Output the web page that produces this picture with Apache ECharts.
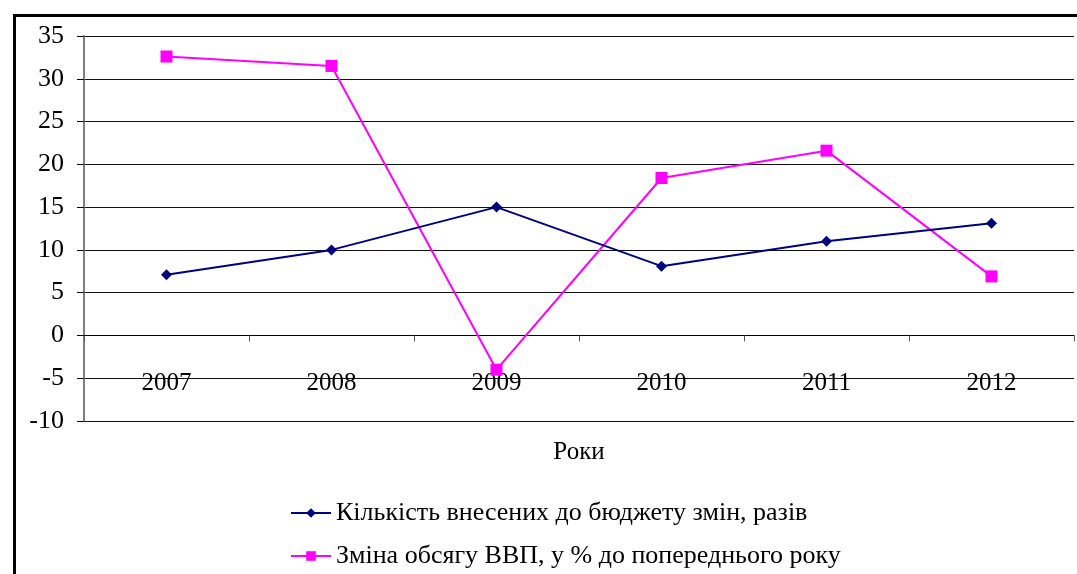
<!DOCTYPE html>
<html>
<head>
<meta charset="utf-8">
<script src="https://cdn.jsdelivr.net/npm/echarts@6/dist/echarts.min.js"></script>
<style>html,body{margin:0;padding:0;background:#fff}#c{width:1077px;height:574px}</style>
</head>
<body>
<div id="c"></div>
<script>
const categories = ['2007', '2008', '2009', '2010', '2011', '2012'];
const budgetChanges = [7.1, 10, 15, 8.1, 11, 13.1];
const gdpChange = [32.6, 31.5, -4.0, 18.4, 21.6, 6.9];
const seriesNames = ['Кількість внесених до бюджету змін, разів', 'Зміна обсягу ВВП, у % до попереднього року'];
const xAxisName = 'Роки';

const font = '"Liberation Serif", "Times New Roman", serif';
const chart = echarts.init(document.getElementById('c'), null, {renderer: 'canvas'});
chart.setOption({
  animation: false,
  backgroundColor: '#fff',
  grid: {left: 84, right: 3, top: 36, bottom: 153, containLabel: false},
  graphic: [{
    type: 'rect', left: 12, top: 13, z: 100,
    shape: {width: 1200, height: 700},
    style: {fill: 'none', stroke: '#000', lineWidth: 3}
  }],
  legend: {
    orient: 'vertical', left: 285, top: 495,
    itemWidth: 40, itemHeight: 12, itemGap: 17,
    textStyle: {fontFamily: font, fontSize: 26, color: '#000'},
    data: seriesNames
  },
  xAxis: {
    type: 'category', data: categories, boundaryGap: true,
    name: xAxisName, nameLocation: 'middle', nameGap: 19,
    nameTextStyle: {fontFamily: font, fontSize: 25, color: '#000'},
    axisLine: {onZero: true, lineStyle: {color: '#000', width: 1}},
    axisTick: {show: true, length: 6, lineStyle: {color: '#555'}},
    axisLabel: {margin: -50, fontFamily: font, fontSize: 25, color: '#000'},
    splitLine: {show: false}
  },
  yAxis: {
    type: 'value', min: -10, max: 35, interval: 5,
    axisLine: {show: true, lineStyle: {color: '#808080', width: 2}},
    axisTick: {show: true, length: 7, lineStyle: {color: '#000'}},
    axisLabel: {margin: 20, fontFamily: font, fontSize: 26, color: '#000'},
    splitLine: {show: true, lineStyle: {color: '#111', width: 1}}
  },
  series: [{
    name: seriesNames[0], type: 'line', data: budgetChanges,
    symbol: 'diamond', symbolSize: 11,
    lineStyle: {color: '#000080', width: 2},
    itemStyle: {color: '#000080'}, z: 3
  }, {
    name: seriesNames[1], type: 'line', data: gdpChange,
    symbol: 'rect', symbolSize: 12,
    lineStyle: {color: '#FF00FF', width: 2},
    itemStyle: {color: '#FF00FF'}, z: 2
  }]
});
</script>
</body>
</html>
